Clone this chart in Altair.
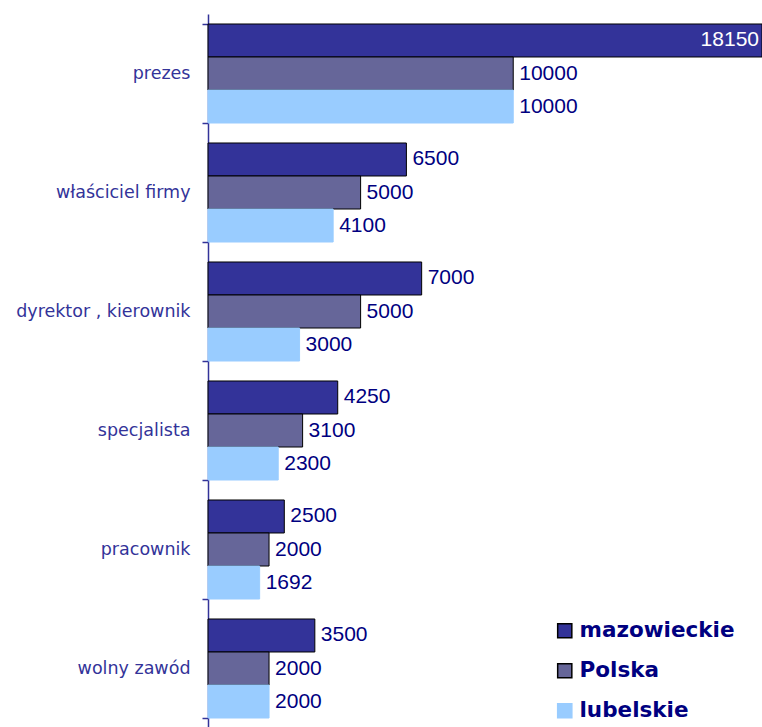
import altair as alt
import pandas as pd

categories = ["prezes", "właściciel firmy", "dyrektor , kierownik", "specjalista", "pracownik", "wolny zawód"]
series = ["mazowieckie", "Polska", "lubelskie"]
mazowieckie = [18150, 6500, 7000, 4250, 2500, 3500]
polska = [10000, 5000, 5000, 3100, 2000, 2000]
lubelskie = [10000, 4100, 3000, 2300, 1692, 2000]

colors = ["#333399", "#666699", "#99CCFF"]
strokes = ["#000000", "#000000", "#99CCFF"]

rows = []
for i, c in enumerate(categories):
    for s, vals in zip(series, [mazowieckie, polska, lubelskie]):
        rows.append({"category": c, "series": s, "value": vals[i]})
df = pd.DataFrame(rows)

XMAX = max(mazowieckie + polska + lubelskie)

y_enc = alt.Y("category:N", sort=categories, title=None,
              scale=alt.Scale(paddingInner=0.168, paddingOuter=0.084),
              axis=alt.Axis(tickBand="extent", tickSize=6, labelPadding=12,
                            labelFont="DejaVu Sans", labelFontSize=17.5,
                            labelColor="#333399", domainColor="#333399",
                            tickColor="#333399", domainWidth=1.5, tickWidth=1.5))
yoff_enc = alt.YOffset("series:N", sort=series,
                       scale=alt.Scale(paddingInner=0, paddingOuter=0))
x_enc = alt.X("value:Q", title=None, axis=None,
              scale=alt.Scale(domain=[0, XMAX], nice=False, zero=True))

bars = alt.Chart(df).mark_bar(strokeWidth=1).encode(
    y=y_enc,
    yOffset=yoff_enc,
    x=x_enc,
    color=alt.Color("series:N", sort=series, title=None,
                    scale=alt.Scale(domain=series, range=colors)),
    stroke=alt.Stroke("series:N", sort=series, title=None,
                      scale=alt.Scale(domain=series, range=strokes)),
)

labels_out = alt.Chart(df).transform_filter(
    alt.datum.value < 15000
).mark_text(align="left", baseline="middle", dx=6, font="Liberation Sans",
            fontSize=21, color="#000080").encode(
    y=alt.Y("category:N", sort=categories),
    yOffset=alt.YOffset("series:N", sort=series),
    x=alt.X("value:Q"),
    text=alt.Text("value:Q", format="d"),
)

labels_in = alt.Chart(df).transform_filter(
    alt.datum.value >= 15000
).mark_text(align="right", baseline="middle", dx=-3, font="Liberation Sans",
            fontSize=21, color="#FFFFFF").encode(
    y=alt.Y("category:N", sort=categories),
    yOffset=alt.YOffset("series:N", sort=series),
    x=alt.X("value:Q"),
    text=alt.Text("value:Q", format="d"),
)

chart = alt.layer(bars, labels_out, labels_in).properties(
    width=554, height=714,
    autosize=alt.AutoSizeParams(type="none"),
    padding={"left": 208, "top": 14, "right": 0, "bottom": 0},
).configure_view(stroke=None).configure_legend(
    orient="none", legendX=346, legendY=606, padding=0,
    symbolType="square", symbolSize=200, symbolStrokeWidth=1.5,
    labelFont="DejaVu Sans", labelFontSize=21.5, labelFontWeight="bold",
    labelColor="#000080", labelOffset=4, rowPadding=17, labelLimit=300,
)

chart.save("out.html", embed_options={"renderer": "svg", "actions": False})
